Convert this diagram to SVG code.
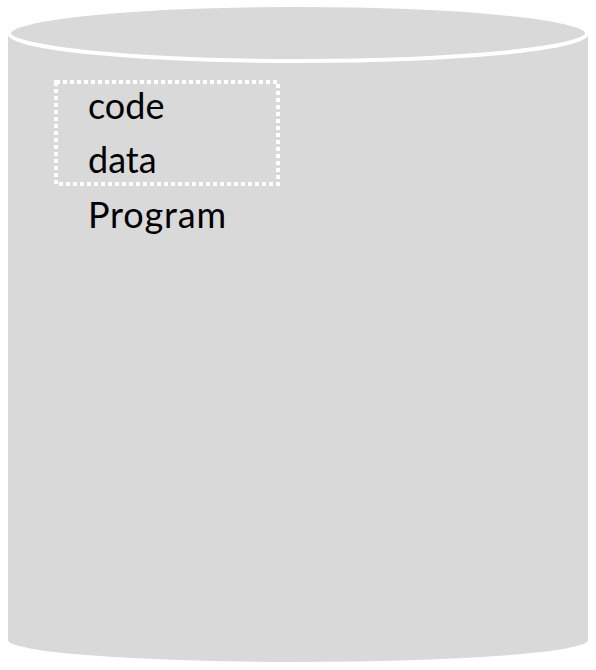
<svg xmlns="http://www.w3.org/2000/svg" width="596" height="670" viewBox="0 0 596 670">
<style>
.lbl{font-family:Lato,"Open Sans",sans-serif;font-size:36px;fill:#000}
.cyl{fill:#d9d9d9}
</style>
<rect width="596" height="670" fill="#fff"/>
<g id="cylinder">
<path class="cyl" d="M8 36 L8 640 A290 22 0 0 0 588 640 L588 36 Z"/>
<ellipse class="cyl" cx="298" cy="33" rx="289" ry="28" stroke="#fff" stroke-width="4"/>
</g>
<g id="group-box">
<rect x="56" y="82" width="222" height="102" fill="none" stroke="#fff" stroke-width="4" stroke-dasharray="4 3"/>
</g>
<g id="labels">
<text class="lbl" x="88" y="119">code</text>
<text class="lbl" x="88" y="173">data</text>
<text class="lbl" x="88" y="228" textLength="138">Program</text>
</g>
</svg>
